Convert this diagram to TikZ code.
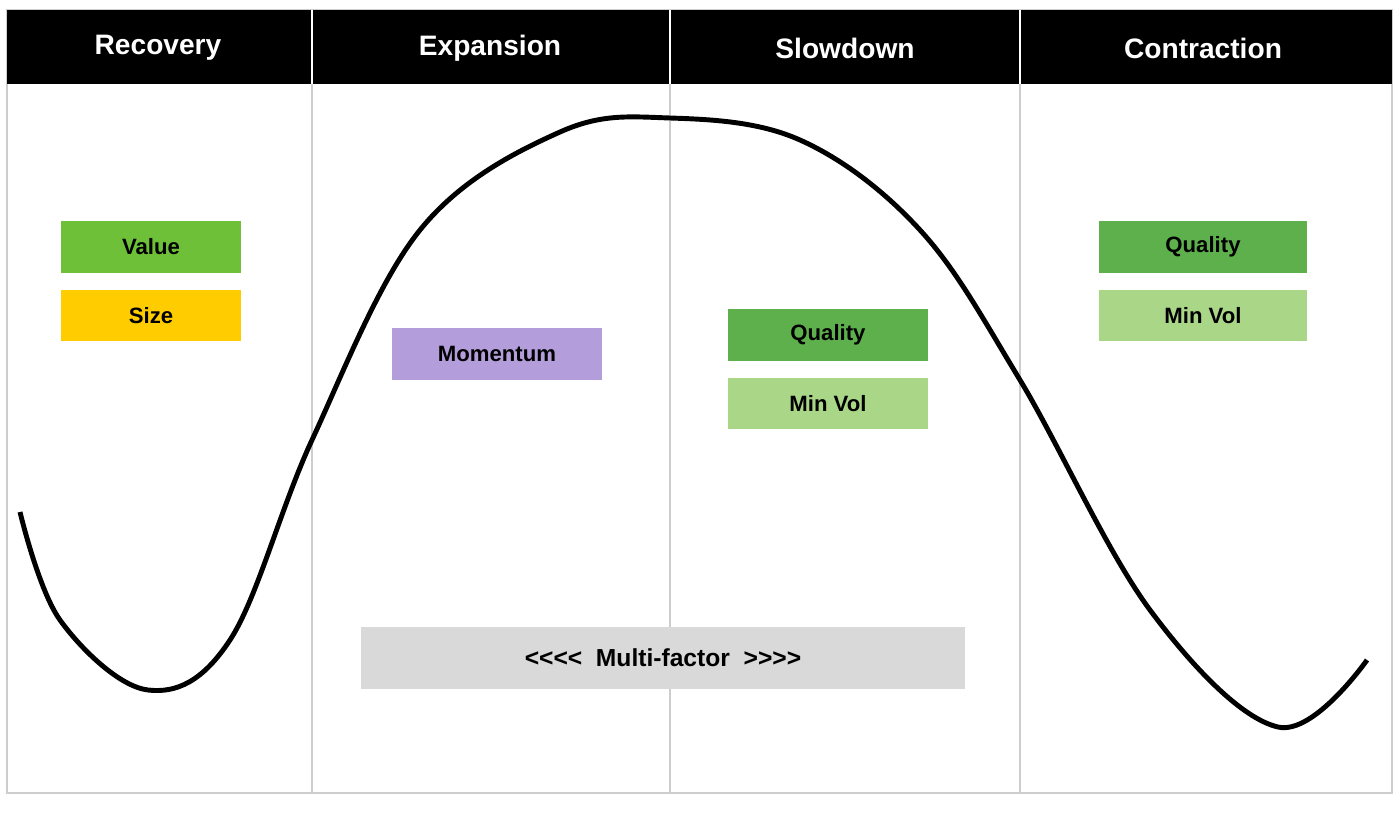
\documentclass[tikz,border=0pt]{standalone}
\usepackage{fontspec}
\setmainfont{Liberation Sans}
\usetikzlibrary{positioning}
\definecolor{valgreen}{RGB}{110,192,56}
\definecolor{sizeyel}{RGB}{255,204,0}
\definecolor{mompurp}{RGB}{179,157,219}
\definecolor{qualgreen}{RGB}{94,176,76}
\definecolor{volgreen}{RGB}{170,215,135}
\definecolor{multigray}{RGB}{217,217,217}
\definecolor{divgray}{RGB}{205,205,205}
\begin{document}
\begin{tikzpicture}
	[
	x=0.01cm,y=-0.01cm,
	head/.style={text=white,font=\fontsize{8}{9}\selectfont\bfseries},
	factor/.style={rectangle,minimum width=1.79cm,minimum height=0.51cm,inner sep=0pt,font=\fontsize{6.3}{7}\selectfont\bfseries},
	wide/.style={factor,minimum width=2.06cm}
	]
		\useasboundingbox (0,0) rectangle (1400,818);
		\fill[white] (0,0) rectangle (1400,818);
		\draw[divgray,line width=0.4pt] (7,10) rectangle (1392,793);
		\fill[black] (7,10) rectangle (1392,84);
		\foreach \xd in {312,670,1020}
			\draw[divgray,line width=0.4pt] (\xd,84) -- (\xd,793);
		\foreach \xd in {312,670,1020}
			\draw[white,line width=0.8pt] (\xd,10) -- (\xd,84);
	
		\node (rec) [head] at (158,48) {Recovery};
		\node (exp) [head] at (490,48) {Expansion};
		\node (slo) [head] at (845,48) {Slowdown};
		\node (con) [head] at (1203,48) {Contraction};
	
		\draw[line width=1.4pt] plot[smooth,tension=0.6] coordinates {(20,512) (60,620) (148,690) (230,640) (312,440) (420,230) (560,132) (670,118) (800,140) (920,230) (1020,380) (1150,610) (1278,727) (1367,660)};
	
		\node (val) [factor,fill=valgreen] at (151,247) {Value};
		\node (siz) [factor,fill=sizeyel,below=0.16cm of val] {Size};
		\node (mom) [wide,minimum width=2.1cm,fill=mompurp] at (497,354) {Momentum};
		\node (qsl) [wide,minimum width=2.0cm,fill=qualgreen] at (828,335) {Quality};
		\node (vsl) [wide,minimum width=2.0cm,fill=volgreen,below=0.16cm of qsl] {Min Vol};
		\node (qco) [wide,minimum width=2.07cm,fill=qualgreen] at (1203,247) {Quality};
		\node (vco) [wide,minimum width=2.07cm,fill=volgreen,below=0.16cm of qco] {Min Vol};
		\node (mul) [rectangle,fill=multigray,minimum width=6.04cm,minimum height=0.61cm,font=\fontsize{7}{8}\selectfont\bfseries] at (663,658) {<{}<{}<{}<~~Multi-factor~~>{}>{}>{}>};
	\end{tikzpicture}
\end{document}
